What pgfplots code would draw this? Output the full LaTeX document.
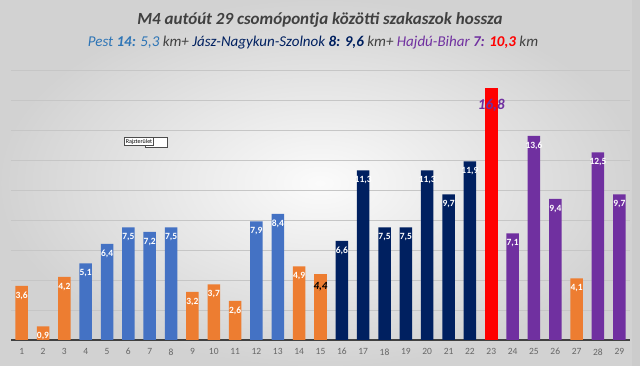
\documentclass[border=0pt]{standalone}
\usepackage{pgfplots}
\pgfplotsset{compat=1.18}
\usepackage{fontspec}
\setmainfont{Carlito}
\definecolor{cOr}{HTML}{ED7D31}
\definecolor{cBl}{HTML}{4472C4}
\definecolor{cNv}{HTML}{002060}
\definecolor{cRd}{HTML}{FF0000}
\definecolor{cPu}{HTML}{7030A0}
\definecolor{cPest}{HTML}{2E75B6}
\definecolor{cTitle}{HTML}{404040}
\begin{document}
\begin{tikzpicture}
\shade[inner color=white!97!gray, outer color=gray!35] (0pt,0pt) rectangle (640pt,366pt);
\fill[gray!40] (632pt,0pt) rectangle (640pt,366pt);
\useasboundingbox (0pt,0pt) rectangle (640pt,366pt);
\node[font=\bfseries\itshape\fontsize{17}{20}\selectfont, text=cTitle] at (320pt,346pt) {M4 autóút 29 csomópontja közötti szakaszok hossza};
\node[font=\itshape\fontsize{15}{18}\selectfont, text=cTitle] at (313pt,323pt) {{\color{cPest}Pest \textbf{14:} 5,3} km+ {\color{cNv}Jász-Nagykun-Szolnok \textbf{8: 9,6}} km+ {\color{cPu}Hajdú-Bihar \textbf{7:}} {\color{cRd}\textbf{10,3}} km};
\begin{axis}[at={(11pt,26pt)}, anchor=south west, scale only axis,
  width=619pt, height=270pt,
  xmin=0.5, xmax=29.5, ymin=0, ymax=18,
  ybar, bar width=12.5pt, bar shift=0pt,
  axis line style={draw=none},
  ymajorgrids, ytick={2,4,...,18}, yticklabels={},
  grid style={gray!45, line width=0.9pt},
  extra y ticks={0}, extra y tick labels={},
  extra y tick style={grid style={black!75, line width=1.2pt}},
  xtick={1,...,29}, major tick length=0pt,
  tick label style={font=\fontsize{9.5}{10}\selectfont, text=black!60},
  xticklabel style={yshift=-5pt},
  /pgf/number format/assume math mode=true,
  nodes near coords={\pgfmathprintnumber[fixed,fixed zerofill,precision=1,use comma]{\pgfplotspointmeta}},
  nodes near coords style={anchor=north, yshift=-5pt, text=white, font=\bfseries\fontsize{9.5}{10}\selectfont, inner sep=1pt},
  every axis plot/.append style={draw=none},
]
\addplot[fill=cOr] coordinates {(1,3.6)(2,0.9)(3,4.2)(9,3.2)(10,3.7)(11,2.6)(14,4.9)(27,4.1)};
\addplot[fill=cOr, nodes near coords style={text=black, font=\bfseries\itshape\fontsize{11}{12}\selectfont, yshift=-2pt}] coordinates {(15,4.4)};
\addplot[fill=cBl] coordinates {(4,5.1)(5,6.4)(6,7.5)(7,7.2)(8,7.5)(12,7.9)(13,8.4)};
\addplot[fill=cNv] coordinates {(16,6.6)(17,11.3)(18,7.5)(19,7.5)(20,11.3)(21,9.7)(22,11.9)};
\addplot[fill=cRd, nodes near coords style={text=cPu, font=\bfseries\itshape\fontsize{15}{17}\selectfont, yshift=-5pt}] coordinates {(23,16.8)};
\addplot[fill=cPu] coordinates {(24,7.1)(25,13.6)(26,9.4)(28,12.5)(29,9.7)};
\end{axis}
\draw[black!70, fill=white] (145pt,219pt) rectangle (167pt,229pt);
\node[draw=black!70, fill=white, font=\fontsize{6}{7}\selectfont, inner sep=1.2pt] at (139pt,224.5pt) {Rajzterület};
\end{tikzpicture}
\end{document}
